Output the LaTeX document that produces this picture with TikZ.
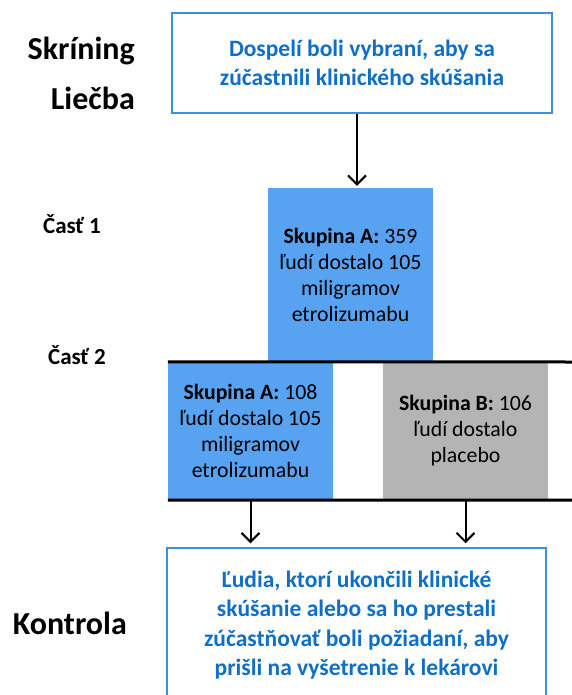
\documentclass[tikz,border=0pt]{standalone}
\usepackage{fontspec}
\setmainfont{Carlito}
\usetikzlibrary{arrows.meta}
\definecolor{frameblue}{HTML}{3D8FE3}
\definecolor{textblue}{HTML}{0F6FC6}
\definecolor{fillblue}{HTML}{58A2F2}
\definecolor{fillgrey}{HTML}{B4B4B4}
\tikzset{
   frame/.style={draw=frameblue, line width=1.5pt, text=textblue, align=center,
      inner sep=0pt, font=\bfseries\fontsize{23.5}{29.5}\selectfont},
   group/.style={inner sep=0pt, align=center, font=\fontsize{21.8}{26}\selectfont},
   arr/.style={line width=2pt, -{Straight Barb[length=9pt,width=18pt,line width=2pt]}},
   bar/.style={line width=3pt},
}
\begin{document}
\begin{tikzpicture}[x=1pt, y=-1pt]
   \useasboundingbox (0,0) rectangle (572,695);
   \def \BigLabels {
      skr/135/60/Skríning,
      lie/135/110/Liečba,
      kon/127/634/Kontrola}
   \def \SmallLabels {
      p1/43/233/Časť 1,
      p2/48/364/Časť 2}
   \foreach \u / \x / \y / \t in \BigLabels {
      \node[anchor=base east, inner sep=0pt, font=\bfseries\fontsize{32}{38}\selectfont] (\u) at (\x, \y) {\t};
   }
   \foreach \u / \x / \y / \t in \SmallLabels {
      \node[anchor=base west, inner sep=0pt, font=\bfseries\fontsize{23}{27}\selectfont] (\u) at (\x, \y) {\t};
   }
   % boxes
   \node[frame, minimum width=380pt, minimum height=100pt] (screen) at (362,63)
      {Dospelí boli vybraní, aby sa\\zúčastnili klinického skúšania};
   \node[group, fill=fillblue, minimum width=165pt, minimum height=173pt] (grpA1) at (350.5,274.5)
      {\textbf{Skupina A:} 359\\ľudí dostalo 105\\miligramov\\etrolizumabu};
   \node[group, fill=fillblue, minimum width=165pt, minimum height=138pt] (grpA2) at (250.5,431)
      {\textbf{Skupina A:} 108\\ľudí dostalo 105\\miligramov\\etrolizumabu};
   \node[group, fill=fillgrey, minimum width=165pt, minimum height=138pt] (grpB) at (465.5,431)
      {\textbf{Skupina B:} 106\\ľudí dostalo\\placebo};
   \node[frame, minimum width=379pt, minimum height=154pt] (check) at (356.5,625)
      {Ľudia, ktorí ukončili klinické\\skúšanie alebo sa ho prestali\\zúčastňovať boli požiadaní, aby\\prišli na vyšetrenie k lekárovi};
   % bars and arrows
   \coordinate (r1) at (572,362);
   \coordinate (r2) at (572,500);
   \draw[bar] (grpA2.north west) -- (r1);
   \draw[bar] (grpA2.south west) -- (r2);
   \draw[arr, shorten >=2pt] ([xshift=-5pt]screen.south) -- ([xshift=-5pt]screen.south |- grpA1.north);
   \draw[arr, shorten >=4pt] (grpA2.south) -- (grpA2.south |- check.north);
   \draw[arr, shorten >=4pt] (grpB.south) -- (grpB.south |- check.north);
\end{tikzpicture}
\end{document}
